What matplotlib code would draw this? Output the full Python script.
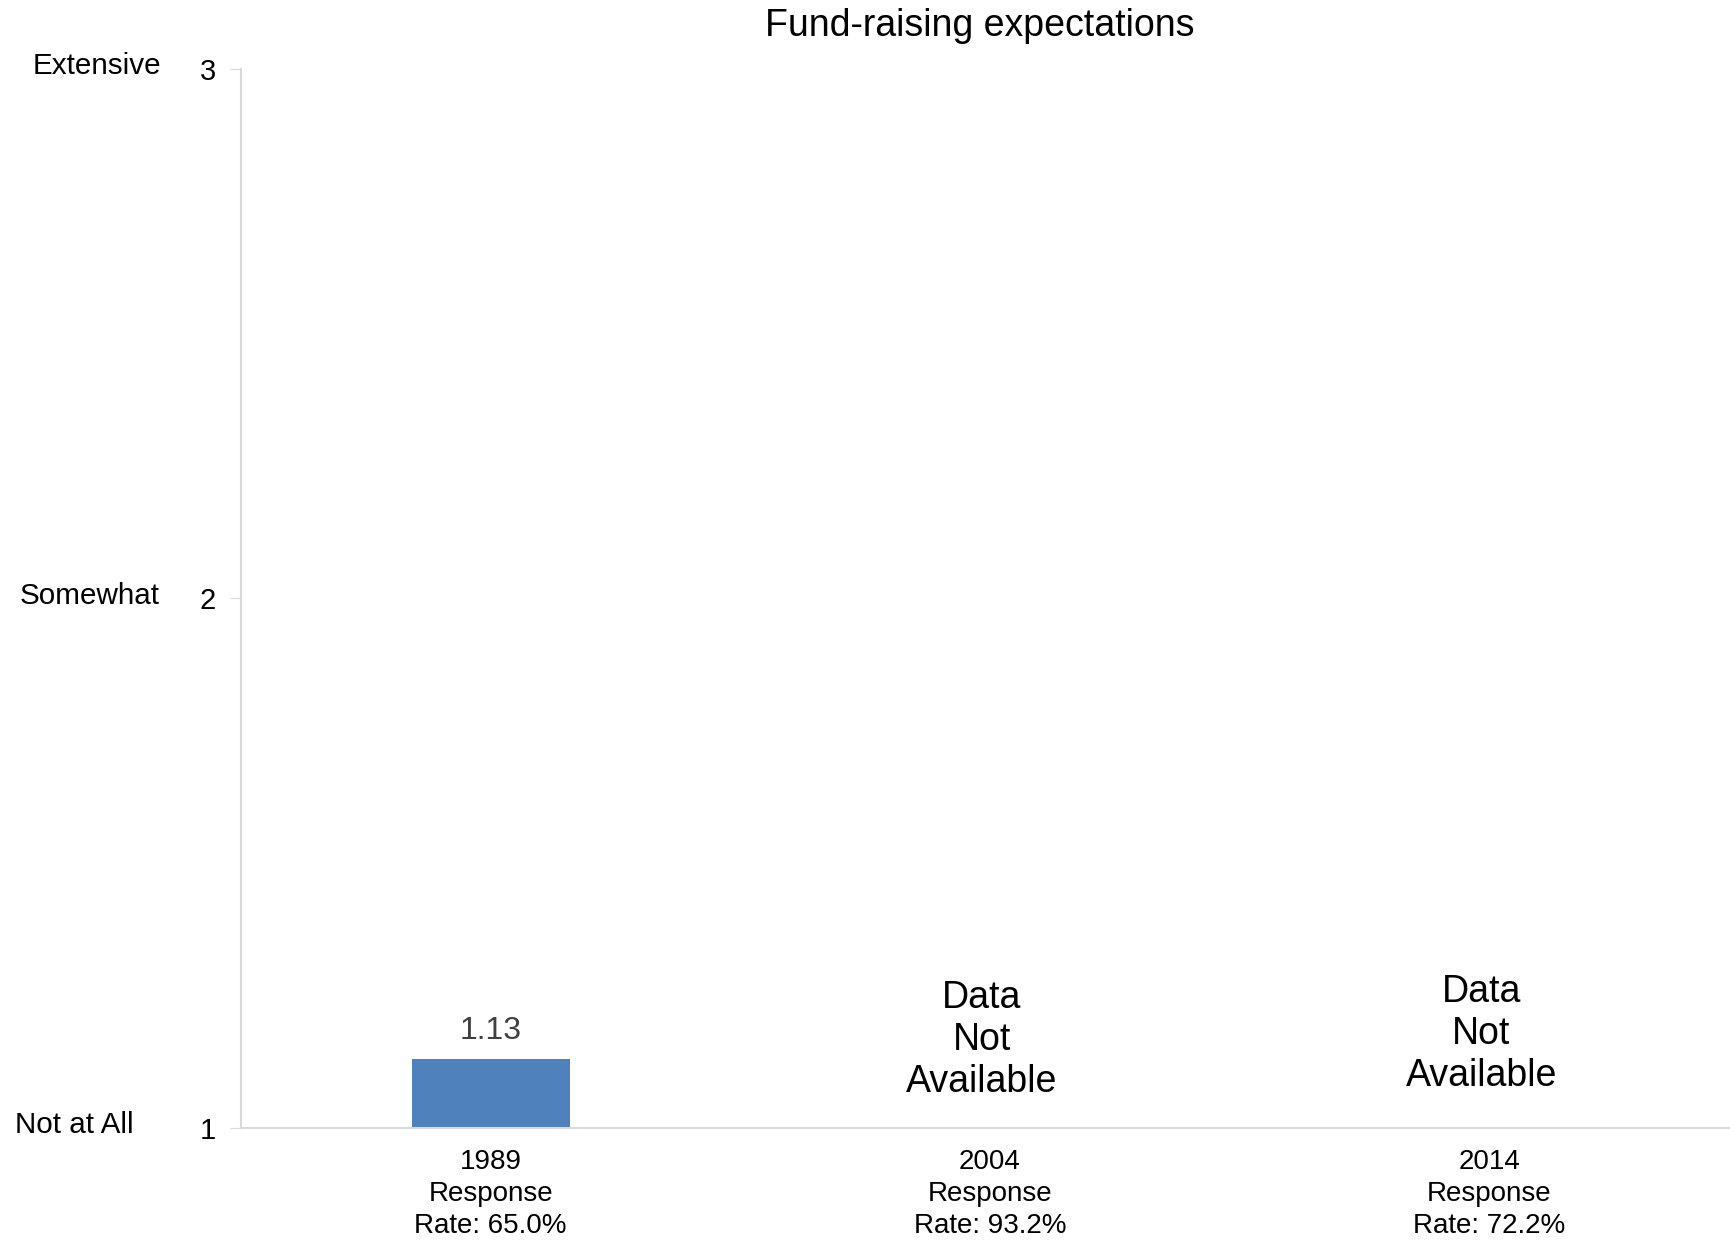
import matplotlib
matplotlib.use("Agg")
import matplotlib.pyplot as plt
from matplotlib.transforms import blended_transform_factory

plt.rcParams['font.family'] = ['Liberation Sans', 'DejaVu Sans']

years = ["1989", "2004", "2014"]
response_rates = ["65.0%", "93.2%", "72.2%"]
values = [1.13, None, None]
y_ticks = [1, 2, 3]
y_level_labels = ["Not at All", "Somewhat", "Extensive"]
title = "Fund-raising expectations"

fig = plt.figure(figsize=(17.31, 12.42), dpi=100)
ax = fig.add_axes([241/1731, 1 - 1128/1242, (1739 - 241)/1731, (1128 - 68.5)/1242])

x = list(range(len(years)))
bar_vals = [v if v is not None else 0 for v in values]
ax.bar(x, bar_vals, width=0.316, color="#4f81bd", zorder=2)

na_y = [None, 1.166, 1.177]
for xi, v, ny in zip(x, values, na_y):
    if v is not None:
        ax.text(xi, v + 0.025, f"{v:.2f}", ha="center", va="bottom",
                fontsize=23, color="#404040")
    else:
        ax.text(xi - 0.016, ny, "Data\nNot\nAvailable", ha="center", va="center",
                fontsize=27, color="black", linespacing=1.22)

ax.set_xlim(-0.5, 2.5)
ax.set_ylim(1, 3)
ax.set_xticks(x)
ax.set_xticklabels([f"{y}\nResponse\nRate: {r}" for y, r in zip(years, response_rates)],
                   fontsize=20, linespacing=1.3)
ax.tick_params(axis="x", length=0, pad=15)
ax.set_yticks(y_ticks)
ax.set_yticklabels([str(t) for t in y_ticks], fontsize=21)
ax.tick_params(axis="y", length=8, color="#d9d9d9", pad=10)

for s in ["top", "right"]:
    ax.spines[s].set_visible(False)
for s in ["left", "bottom"]:
    ax.spines[s].set_color("#d9d9d9")
    ax.spines[s].set_linewidth(1.5)

trans = blended_transform_factory(fig.transFigure, ax.transData)
label_x = [15/1731, 20/1731, 33/1731]
for lx, t, lab in zip(label_x, y_ticks, y_level_labels):
    ax.text(lx, t + 0.005, lab, transform=trans, ha="left", va="center",
            fontsize=21.3, color="black", clip_on=False)

fig.text(980/1731, 1 - 26/1242, title, ha="center", va="center", fontsize=27)

fig.savefig("out.png", dpi=100)
